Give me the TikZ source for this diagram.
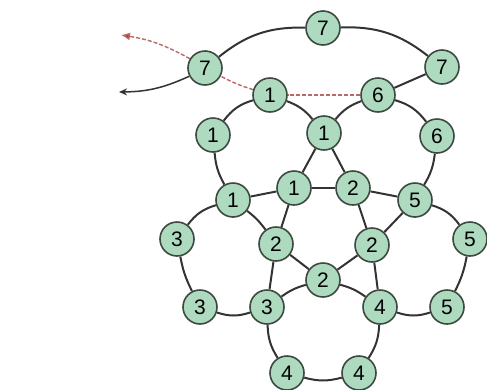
\documentclass[tikz,border=0pt]{standalone}
\usepackage{fontspec}
\setmainfont{Liberation Sans}
\usetikzlibrary{backgrounds,arrows.meta}
\definecolor{nodefill}{HTML}{AEDBC0}
\definecolor{nodeline}{HTML}{3C4A40}
\definecolor{edgec}{HTML}{333333}
\definecolor{reddash}{HTML}{B86A6A}
\definecolor{redtip}{HTML}{D42020}
\tikzset{
  num/.style={circle, draw=nodeline, line width=1.6pt, fill=nodefill, minimum size=34pt, inner sep=0pt, font=\fontsize{21}{24}\selectfont},
  edge/.style={draw=edgec, line width=2pt},
  rpath/.style={draw=reddash, line width=1.4pt, dashed, dash pattern=on 4pt off 2pt},
}
\begin{document}
\begin{tikzpicture}[x=1pt,y=-1pt]
\useasboundingbox (0,0) rectangle (487,389);
% nodes
\node[num] (s7a) at (323,28) {7};
\node[num] (s7b) at (205,68) {7};
\node[num] (s7c) at (442,67) {7};
\node[num] (t1) at (270,95) {1};
\node[num] (t6) at (378,95) {6};
\node[num] (l1) at (213,135) {1};
\node[num] (c1) at (324,133) {1};
\node[num] (r6) at (437,136) {6};
\node[num] (a1) at (233,200) {1};
\node[num] (b1) at (294,188) {1};
\node[num] (b2) at (353,188) {2};
\node[num] (r5) at (415,200) {5};
\node[num] (l3) at (177,239) {3};
\node[num] (m2l) at (276,244) {2};
\node[num] (m2r) at (372,245) {2};
\node[num] (fr5) at (470,239) {5};
\node[num] (c2) at (323,280) {2};
\node[num] (bl3) at (200,307) {3};
\node[num] (bm3) at (267,307) {3};
\node[num] (bm4) at (380,307) {4};
\node[num] (br5) at (447,307) {5};
\node[num] (b4l) at (287,373) {4};
\node[num] (b4r) at (359,373) {4};
\coordinate (blk) at (119,92);
\coordinate (red) at (121,35);
\begin{scope}[on background layer]
% red dashed path
\draw[rpath] (t6) -- (t1);
\draw[rpath] (t1) to[bend left=5] (s7b);
\draw[rpath, -{Latex[length=9pt,width=8pt,fill=redtip]}] (s7b) to[bend right=10] (red);
% black arrow
\draw[edge, line width=1.5pt, -{Stealth[length=8pt,width=7pt]}] (s7b) to[bend left=12] (blk);
% top
\draw[edge] (s7b) to[bend left=20] (s7a);
\draw[edge] (s7a) to[bend left=20] (s7c);
\draw[edge] (s7c) -- (t6);
% upper faces
\draw[edge] (t1) to[bend right=18] (l1);
\draw[edge] (t1) to[bend left=15] (c1);
\draw[edge] (t6) to[bend right=15] (c1);
\draw[edge] (t6) to[bend left=18] (r6);
\draw[edge] (l1) to[bend right=12] (a1);
\draw[edge] (r6) to[bend left=12] (r5);
\draw[edge] (c1) -- (b1);
\draw[edge] (c1) -- (b2);
\draw[edge] (a1) -- (b1);
\draw[edge] (b1) -- (b2);
\draw[edge] (b2) -- (r5);
\draw[edge] (a1) to[bend left=8] (m2l);
\draw[edge] (b1) -- (m2l);
\draw[edge] (b2) -- (m2r);
\draw[edge] (r5) -- (m2r);
% side faces
\draw[edge] (l3) to[bend left=18] (a1);
\draw[edge] (r5) to[bend left=18] (fr5);
\draw[edge] (l3) to[bend right=8] (bl3);
\draw[edge] (fr5) to[bend left=8] (br5);
\draw[edge] (bl3) to[bend right=18] (bm3);
\draw[edge] (bm4) to[bend right=18] (br5);
% centre
\draw[edge] (m2l) -- (c2);
\draw[edge] (m2r) -- (c2);
\draw[edge] (m2l) -- (bm3);
\draw[edge] (m2r) -- (bm4);
\draw[edge] (c2) to[bend right=10] (bm3);
\draw[edge] (c2) to[bend left=10] (bm4);
% bottom face
\draw[edge] (bm3) to[bend right=15] (b4l);
\draw[edge] (b4l) to[bend right=15] (b4r);
\draw[edge] (b4r) to[bend right=15] (bm4);
\end{scope}
\end{tikzpicture}
\end{document}
